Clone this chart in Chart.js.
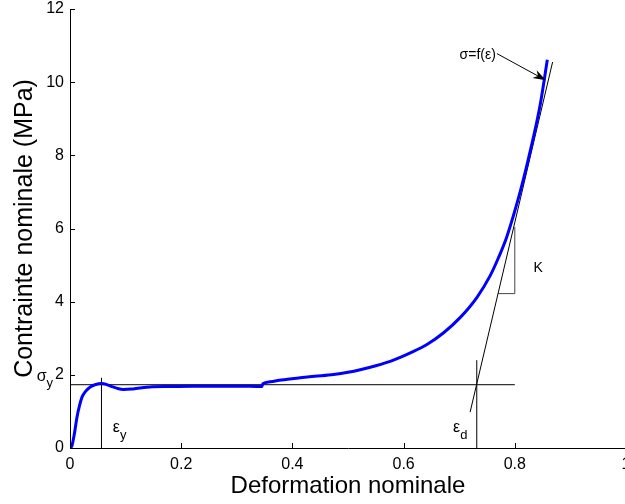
<!DOCTYPE html>
<html><head><meta charset="utf-8">
<script src="https://cdn.jsdelivr.net/npm/chart.js@4"></script>
<style>html,body{margin:0;padding:0;background:#fff;overflow:hidden;width:625px;height:504px}
#wrap{position:relative;width:660px;height:504px}</style>
</head><body><div id="wrap"><canvas id="c" width="660" height="504"></canvas></div>
<script>
// Nominal stress-strain curve
const strain = [0, 0.0036, 0.008, 0.0126, 0.017, 0.0216, 0.028, 0.0364, 0.045, 0.0575, 0.065, 0.075, 0.085, 0.0963, 0.11, 0.125, 0.144, 0.18, 0.22, 0.26, 0.30, 0.345,
  0.347, 0.36, 0.38, 0.414, 0.44, 0.474, 0.50, 0.522, 0.55, 0.576, 0.594, 0.612, 0.642, 0.672, 0.702, 0.732, 0.756, 0.770, 0.7855, 0.8096, 0.8275, 0.8455, 0.8585];
const stress = [0, 0.07, 0.4, 0.85, 1.15, 1.39, 1.55, 1.67, 1.73, 1.76, 1.74, 1.68, 1.63, 1.60, 1.61, 1.64, 1.67, 1.68, 1.69, 1.69, 1.69, 1.68,
  1.76, 1.81, 1.86, 1.92, 1.96, 2.01, 2.07, 2.14, 2.25, 2.37, 2.48, 2.60, 2.83, 3.15, 3.57, 4.12, 4.72, 5.18, 5.77, 7.0, 8.1, 9.37, 10.61];
// construction lines
const sigmaYield = 1.73;
const sigmaLineStrain = [0, 0.8];
const epsYield = 0.0566;
const epsYieldTop = 1.92;
const epsDens = 0.7316;
const epsDensTop = 2.40;
const tangentStrain = [0.7196, 0.868];
const tangentStress = [0.98, 10.55];
const kStrain = [0.77, 0.8, 0.8];
const kStress = [4.22, 4.22, 6.04];
// axes
const xTickValues = [0, 0.2, 0.4, 0.6, 0.8, 1];
const xTickLabels = ['0', '0.2', '0.4', '0.6', '0.8', '1'];
const yTickValues = [0, 2, 4, 6, 8, 10, 12];
const yTickLabels = ['0', '2', '4', '6', '8', '10', '12'];

const FONT = '"Liberation Sans", Arial, Helvetica, sans-serif';
const pts = (xs, ys) => xs.map((v, i) => ({x: v, y: ys[i]}));
const thin = (data, color) => ({data, borderColor: color || '#000', borderWidth: 1, pointRadius: 0, tension: 0, fill: false});

function subText(ctx, main, sub, px, py, size, align) {
  ctx.font = size + 'px ' + FONT;
  const w = ctx.measureText(main).width;
  ctx.font = Math.round(size * 0.8) + 'px ' + FONT;
  const ws = ctx.measureText(sub).width;
  let left = px;
  if (align === 'right') left = px - w - ws;
  ctx.textAlign = 'left';
  ctx.textBaseline = 'middle';
  ctx.font = size + 'px ' + FONT;
  ctx.fillText(main, left, py);
  ctx.font = Math.round(size * 0.8) + 'px ' + FONT;
  ctx.fillText(sub, left + w, py + size * 0.45);
}

const annot = {
  id: 'annot',
  afterDatasetsDraw(chart) {
    const {ctx, scales: {x, y}, chartArea: a} = chart;
    ctx.save();
    ctx.strokeStyle = '#000'; ctx.lineWidth = 1;
    ctx.beginPath();
    xTickValues.forEach(v => { const p = Math.round(x.getPixelForValue(v)) + 0.5; ctx.moveTo(p, a.bottom); ctx.lineTo(p, a.bottom - 5); });
    yTickValues.forEach(v => { const p = Math.round(y.getPixelForValue(v)) + 0.5; ctx.moveTo(a.left, p); ctx.lineTo(a.left + 5, p); });
    ctx.stroke();
    ctx.fillStyle = '#000';
    subText(ctx, 'σ', 'y', a.left - 17, y.getPixelForValue(1.95), 16, 'right');
    subText(ctx, 'ε', 'y', x.getPixelForValue(0.077), y.getPixelForValue(0.55), 16);
    subText(ctx, 'ε', 'd', x.getPixelForValue(0.689), y.getPixelForValue(0.55), 16);
    ctx.font = '14px ' + FONT; ctx.textAlign = 'center'; ctx.textBaseline = 'middle';
    ctx.fillText('K', x.getPixelForValue(0.842), y.getPixelForValue(4.91));
    ctx.font = '14px ' + FONT; ctx.textAlign = 'right'; ctx.textBaseline = 'middle';
    ctx.fillText('σ=f(ε)', x.getPixelForValue(0.766), y.getPixelForValue(10.75));
    const x0 = x.getPixelForValue(0.768), y0 = y.getPixelForValue(10.78);
    const x1 = x.getPixelForValue(0.856), y1 = y.getPixelForValue(10.05);
    const ang = Math.atan2(y1 - y0, x1 - x0);
    ctx.beginPath(); ctx.moveTo(x0, y0); ctx.lineTo(x1 - 8 * Math.cos(ang), y1 - 8 * Math.sin(ang)); ctx.stroke();
    ctx.beginPath();
    ctx.moveTo(x1, y1);
    ctx.lineTo(x1 - 13 * Math.cos(ang) + 4.5 * Math.sin(ang), y1 - 13 * Math.sin(ang) - 4.5 * Math.cos(ang));
    ctx.lineTo(x1 - 9 * Math.cos(ang), y1 - 9 * Math.sin(ang));
    ctx.lineTo(x1 - 13 * Math.cos(ang) - 4.5 * Math.sin(ang), y1 - 13 * Math.sin(ang) + 4.5 * Math.cos(ang));
    ctx.closePath(); ctx.fill();
    ctx.restore();
  }
};

new Chart(document.getElementById('c'), {
  type: 'line',
  data: {
    datasets: [
      {data: pts(strain, stress), borderColor: '#0000ff', borderWidth: 3, pointRadius: 0, cubicInterpolationMode: 'monotone', fill: false},
      thin(pts(sigmaLineStrain, [sigmaYield, sigmaYield])),
      thin(pts([epsYield, epsYield], [0, epsYieldTop])),
      thin(pts([epsDens, epsDens], [0, epsDensTop])),
      thin(pts(tangentStrain, tangentStress)),
      thin(pts(kStrain, kStress), '#444')
    ]
  },
  options: {
    responsive: false,
    animation: false,
    layout: {padding: {top: 9, right: 34, left: 0, bottom: 0}},
    plugins: {legend: {display: false}, tooltip: {enabled: false}},
    scales: {
      x: {
        type: 'linear', min: 0, max: 1,
        afterBuildTicks: s => { s.ticks = xTickValues.map(v => ({value: v})); },
        afterFit: s => { s.height = 56; s.paddingLeft = 0; s.paddingRight = 0; },
        grid: {drawOnChartArea: false, drawTicks: false},
        border: {display: true, color: '#000', width: 1},
        ticks: {color: '#000', padding: 9, font: {family: FONT, size: 16, lineHeight: 1},
          callback: (v) => xTickLabels[xTickValues.indexOf(v)] ?? String(v)},
        title: {display: true, text: 'Deformation nominale', color: '#000', font: {family: FONT, size: 24, lineHeight: 1.2}, padding: {top: 0, bottom: 3}}
      },
      y: {
        type: 'linear', min: 0, max: 12,
        afterBuildTicks: s => { s.ticks = yTickValues.map(v => ({value: v})); },
        afterFit: s => { s.width = 70; s.paddingTop = 0; s.paddingBottom = 0; },
        grid: {drawOnChartArea: false, drawTicks: false},
        border: {display: true, color: '#000', width: 1},
        ticks: {color: '#000', padding: 6, font: {family: FONT, size: 16, lineHeight: 1},
          callback: (v) => yTickLabels[yTickValues.indexOf(v)] ?? String(v)},
        title: {display: true, text: 'Contrainte nominale (MPa)', color: '#000', font: {family: FONT, size: 25, lineHeight: 1.2}, padding: {top: 10, bottom: 0}}
      }
    }
  },
  plugins: [annot]
});
</script></body></html>
